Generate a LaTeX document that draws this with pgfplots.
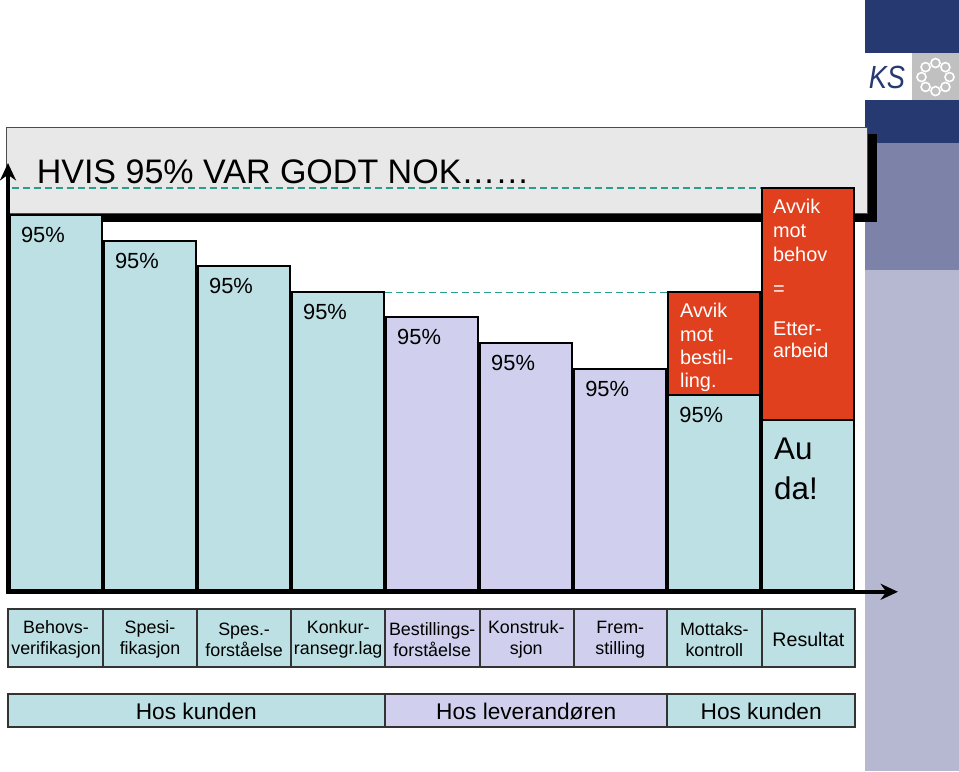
\documentclass[border=0pt]{standalone}
\usepackage{pgfplots}
\pgfplotsset{compat=1.18}
\usepackage{fontspec}
\setmainfont{Liberation Sans}
\usetikzlibrary{arrows.meta}
\definecolor{tealbar}{HTML}{BCE0E3}
\definecolor{lavbar}{HTML}{D0D0EE}
\definecolor{redbar}{HTML}{E0401E}
\definecolor{titlegrey}{HTML}{E8E8E8}
\definecolor{navy}{HTML}{263970}
\definecolor{slate}{HTML}{7D82A8}
\definecolor{lightslate}{HTML}{B6B7D0}
\definecolor{dashteal}{HTML}{2A9E8C}
\definecolor{logogrey}{HTML}{C0C0C0}
\definecolor{boxline}{HTML}{333333}
\tikzset{redtxt/.style={anchor=base west, inner sep=0pt, text=white, font=\fontsize{14.9}{17}\selectfont}}

\begin{document}
\begin{tikzpicture}
% ---------------- background (slide) in pixel coordinates ----------------
\begin{axis}[at={(0,0)}, anchor=south west, scale only axis,
  width=719.25pt, height=578.25pt,
  xmin=0, xmax=959, ymin=0, ymax=771, y dir=reverse,
  hide axis, clip=false]
% right stripe
\fill[navy] (axis cs:865,0) rectangle (axis cs:959,53);
\fill[white] (axis cs:865,53) rectangle (axis cs:912,100);
\fill[logogrey] (axis cs:912,53) rectangle (axis cs:959,100);
\fill[navy] (axis cs:865,100) rectangle (axis cs:959,143);
\fill[slate] (axis cs:865,143) rectangle (axis cs:959,270);
\fill[lightslate] (axis cs:865,270) rectangle (axis cs:959,771);
\node[font=\fontsize{24}{24}\selectfont\itshape, text=navy, xscale=0.85] at (axis cs:887,77) {KS};
\pgfplotsinvokeforeach{0,...,7}{
  \draw[white, line width=1.2pt] (axis cs:{935.5+14*cos(#1*45)},{77+14*sin(#1*45)}) circle[radius=3.4pt];
}
% title box
\fill[black] (axis cs:15,134) rectangle (axis cs:877,222);
\filldraw[fill=titlegrey, draw=black!70, line width=0.75pt] (axis cs:7,127) rectangle (axis cs:868,213);
\node[anchor=base west, inner sep=0pt, font=\fontsize{25.5}{30}\selectfont] at (axis cs:37,183) {HVIS 95\% VAR GODT NOK……};
% category boxes
\filldraw[fill=tealbar, draw=boxline, line width=1.5pt] (axis cs:8,609) rectangle (axis cs:103,667);
\filldraw[fill=tealbar, draw=boxline, line width=1.5pt] (axis cs:103,609) rectangle (axis cs:197,667);
\filldraw[fill=tealbar, draw=boxline, line width=1.5pt] (axis cs:197,609) rectangle (axis cs:291,667);
\filldraw[fill=tealbar, draw=boxline, line width=1.5pt] (axis cs:291,609) rectangle (axis cs:385.5,667);
\filldraw[fill=lavbar, draw=boxline, line width=1.5pt] (axis cs:385.5,609) rectangle (axis cs:480,667);
\filldraw[fill=lavbar, draw=boxline, line width=1.5pt] (axis cs:480,609) rectangle (axis cs:574,667);
\filldraw[fill=lavbar, draw=boxline, line width=1.5pt] (axis cs:574,609) rectangle (axis cs:667.5,667);
\filldraw[fill=tealbar, draw=boxline, line width=1.5pt] (axis cs:667.5,609) rectangle (axis cs:762,667);
\filldraw[fill=tealbar, draw=boxline, line width=1.5pt] (axis cs:762,609) rectangle (axis cs:855,667);
% group boxes
\filldraw[fill=tealbar, draw=boxline, line width=1.5pt] (axis cs:8,694) rectangle (axis cs:385.5,727);
\filldraw[fill=lavbar, draw=boxline, line width=1.5pt] (axis cs:385.5,694) rectangle (axis cs:667.5,727);
\filldraw[fill=tealbar, draw=boxline, line width=1.5pt] (axis cs:667.5,694) rectangle (axis cs:855,727);
\node[font=\fontsize{17}{20}\selectfont] at (axis cs:196.75,711) {Hos kunden};
\node[font=\fontsize{17}{20}\selectfont] at (axis cs:526.5,711) {Hos leverandøren};
\node[font=\fontsize{17}{20}\selectfont] at (axis cs:761.25,711) {Hos kunden};
\end{axis}

% ---------------- bar chart ----------------
\begin{axis}[at={(7.125pt,135.75pt)}, anchor=south west, scale only axis,
  width=634.5pt, height=347.25pt,
  xmin=-0.5, xmax=8.5, ymin=0, ymax=463, clip=false,
  axis line style={draw=none}, ytick=\empty, tick style={draw=none},
  xtick={0,...,8},
  xticklabels={{Behovs-\\verifikasjon},{Spesi-\\fikasjon},{Spes.-\\forståelse},{Konkur-\\ransegr.lag},{Bestillings-\\forståelse},{Konstruk-\\sjon},{Frem-\\stilling},{Mottaks-\\kontroll},{\fontsize{14.7}{17}\selectfont Resultat}},
  xticklabel style={align=center, anchor=center, yshift=-37pt, inner sep=0pt, font=\fontsize{13.4}{15.5}\selectfont},
  mybar/.style={ybar, bar width=0.98, bar shift=0pt, draw=black, line width=1.5pt},
  lab/.style={nodes near coords={95\%}, every node near coord/.append style={anchor=base west, inner sep=0pt, xshift=-27pt, yshift=-20.25pt, font=\fontsize{16.4}{19}\selectfont, text=black}}
]
% dashed reference lines
\addplot[dashteal, dashed, dash pattern=on 5.25pt off 3pt, line width=0.9pt, no marks] coordinates {(-0.473,402) (7.505,402)};
\addplot[dashteal, dashed, dash pattern=on 5.25pt off 3pt, line width=0.9pt, no marks] coordinates {(3.495,298) (6.56,298)};
% red deviation bars (behind)
\addplot[mybar, fill=redbar] coordinates {(7,298) (8,402)};
% customer bars with 95%
\addplot[mybar, fill=tealbar, lab] coordinates {(0,375) (1,349) (2,324) (3,298) (7,195)};
% supplier bars with 95%
\addplot[mybar, fill=lavbar, lab] coordinates {(4,273) (5,247) (6,221)};
% result bar
\addplot[mybar, fill=tealbar] coordinates {(8,170)};
% texts in red boxes
\node[redtxt] at (axis cs:6.633,273) {Avvik};
\node[redtxt] at (axis cs:6.633,249) {mot};
\node[redtxt] at (axis cs:6.633,226) {bestil-};
\node[redtxt] at (axis cs:6.633,203) {ling.};
\node[redtxt] at (axis cs:7.622,377) {Avvik};
\node[redtxt] at (axis cs:7.622,353) {mot};
\node[redtxt] at (axis cs:7.622,329) {behov};
\node[redtxt] at (axis cs:7.622,295) {=};
\node[redtxt] at (axis cs:7.622,255) {Etter-};
\node[redtxt] at (axis cs:7.622,233) {arbeid};
\node[anchor=base west, inner sep=0pt, font=\fontsize{23.5}{27}\selectfont] at (axis cs:7.633,131) {Au};
\node[anchor=base west, inner sep=0pt, font=\fontsize{23.5}{27}\selectfont] at (axis cs:7.633,91) {da!};
% axes arrows
\draw[line width=3.5pt, -{Stealth[length=13pt, width=12pt]}] (axis cs:-0.5106,-3.5) -- (axis cs:-0.5106,427);
\draw[line width=3pt, -{Stealth[length=13pt, width=12pt]}] (axis cs:-0.537,-1.5) -- (axis cs:8.952,-1.5);
\end{axis}
\end{tikzpicture}
\end{document}
